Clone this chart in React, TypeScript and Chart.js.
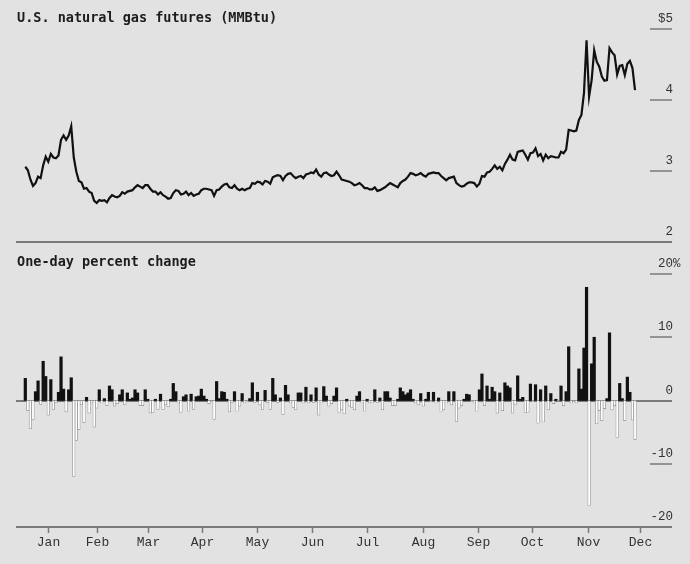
import React, { useEffect, useRef } from "react";
import { Chart, registerables } from "chart.js";

Chart.register(...registerables);

// ---- Data (one value per trading day, oldest first) ----
const priceValues: number[] = [
  3.06, 3.01, 2.88, 2.79, 2.83, 2.92, 2.90, 3.08, 3.20, 3.13,
  3.24, 3.19, 3.18, 3.22, 3.44, 3.50, 3.44, 3.50, 3.63, 3.19,
  2.99, 2.86, 2.84, 2.75, 2.76, 2.71, 2.69, 2.58, 2.55, 2.59,
  2.58, 2.59, 2.56, 2.62, 2.66, 2.64, 2.63, 2.65, 2.70, 2.68,
  2.71, 2.72, 2.73, 2.77, 2.80, 2.78, 2.76, 2.80, 2.80, 2.75,
  2.71, 2.71, 2.67, 2.70, 2.66, 2.64, 2.61, 2.62, 2.69, 2.73,
  2.72, 2.67, 2.68, 2.71, 2.66, 2.69, 2.65, 2.67, 2.68, 2.73,
  2.75, 2.75, 2.74, 2.73, 2.65, 2.73, 2.74, 2.78, 2.81, 2.82,
  2.77, 2.76, 2.80, 2.75, 2.73, 2.75, 2.73, 2.75, 2.76, 2.83,
  2.82, 2.85, 2.84, 2.81, 2.86, 2.85, 2.82, 2.91, 2.93, 2.94,
  2.93, 2.87, 2.93, 2.96, 2.97, 2.93, 2.90, 2.92, 2.93, 2.90,
  2.95, 2.96, 2.98, 2.97, 3.02, 2.95, 2.92, 2.97, 2.98, 2.95,
  2.93, 2.94, 2.99, 2.94, 2.88, 2.87, 2.86, 2.85, 2.83, 2.80,
  2.81, 2.83, 2.80, 2.76, 2.76, 2.74, 2.74, 2.77, 2.72, 2.73,
  2.75, 2.77, 2.80, 2.83, 2.81, 2.79, 2.77, 2.83, 2.86, 2.88,
  2.92, 2.97, 2.96, 2.94, 2.95, 2.97, 2.94, 2.92, 2.96, 2.97,
  2.98, 2.97, 2.97, 2.93, 2.90, 2.87, 2.90, 2.91, 2.92, 2.83,
  2.80, 2.78, 2.79, 2.82, 2.84, 2.84, 2.83, 2.78, 2.82, 2.93,
  2.92, 2.98, 2.99, 3.03, 3.08, 3.03, 3.06, 3.01, 3.10, 3.16,
  3.23, 3.16, 3.15, 3.27, 3.28, 3.29, 3.23, 3.16, 3.25, 3.26,
  3.32, 3.21, 3.24, 3.15, 3.23, 3.18, 3.21, 3.20, 3.19, 3.19,
  3.27, 3.25, 3.30, 3.58, 3.57, 3.56, 3.57, 3.72, 3.79, 4.10,
  4.84, 4.05, 4.28, 4.70, 4.54, 4.47, 4.33, 4.27, 4.28, 4.73,
  4.67, 4.63, 4.36, 4.48, 4.49, 4.35, 4.51, 4.55, 4.45, 4.14,
];

const changeValues: number[] = [
  3.5, -1.6, -4.4, -3.0, 1.4, 3.1, -0.6, 6.2, 3.8, -2.3,
  3.3, -1.4, -0.3, 1.3, 6.9, 1.8, -1.8, 1.7, 3.6, -12.0,
  -6.3, -4.6, -0.7, -3.5, 0.5, -2.0, -0.4, -4.2, -1.2, 1.7,
  -0.4, 0.3, -0.8, 2.3, 1.7, -0.9, -0.5, 0.9, 1.7, -0.7,
  1.2, 0.2, 0.4, 1.7, 1.2, -0.8, -0.8, 1.7, 0.2, -2.0,
  -1.9, 0.2, -1.4, 1.0, -1.4, -0.7, -1.0, 0.2, 2.7, 1.4,
  -0.4, -1.9, 0.6, 0.9, -1.7, 1.0, -1.4, 0.6, 0.7, 1.8,
  0.7, 0.2, -0.5, -0.2, -3.0, 3.0, 0.3, 1.4, 1.3, 0.2,
  -1.8, -0.3, 1.4, -1.7, -0.9, 1.1, -0.4, -0.2, 0.3, 2.8,
  -0.3, 1.3, -0.7, -1.4, 1.6, -0.3, -1.4, 3.5, 0.9, -0.3,
  0.4, -2.2, 2.4, 0.9, -0.4, -1.1, -1.4, 1.2, 1.2, -0.4,
  2.1, -0.4, 0.9, -0.3, 2.0, -2.3, -0.4, 2.2, 0.7, -0.9,
  -0.5, 0.7, 2.0, -1.9, -1.5, -2.1, 0.2, -0.9, -1.1, -1.5,
  0.7, 1.4, -0.4, -1.7, 0.2, -0.4, -0.4, 1.7, -0.3, 0.4,
  -1.5, 1.4, 1.4, 0.4, -0.8, -0.8, 0.2, 2.0, 1.4, 0.9,
  1.2, 1.7, 0.2, -0.4, -0.7, 1.1, -0.9, 0.2, 1.3, -0.2,
  1.3, -0.4, 0.4, -1.7, -1.5, -0.4, 1.4, -0.7, 1.4, -3.3,
  -1.2, -0.8, 0.2, 1.0, 0.9, -0.2, -0.4, -1.7, 1.7, 4.2,
  -0.8, 2.3, 0.2, 2.1, 1.4, -2.0, 1.2, -1.6, 2.8, 2.3,
  2.0, -2.0, -0.7, 3.9, 0.2, 0.5, -1.9, -1.9, 2.6, -0.2,
  2.5, -3.6, 1.7, -3.4, 2.3, -1.5, 1.1, -0.5, 0.2, -0.1,
  2.3, -0.8, 1.4, 8.5, -0.4, -0.2, -0.4, 5.0, 1.8, 8.3,
  17.9, -16.6, 5.8, 10.0, -3.7, -1.6, -3.2, -1.3, 0.3, 10.7,
  -1.5, -0.8, -5.9, 2.7, 0.3, -3.2, 3.7, 1.3, -3.1, -6.2,
];

// month labels and their positions on the trading-day axis
const monthLabels = ["Jan", "Feb", "Mar", "Apr", "May", "Jun", "Jul", "Aug", "Sep", "Oct", "Nov", "Dec"];
const monthTickPos = [9.0, 28.0, 48.0, 69.1, 90.8, 112.5, 133.8, 156.0, 177.3, 198.5, 220.7, 241.0];

const priceTicks = [5, 4, 3, 2];
const priceTickLabels = ["$5", "4", "3", "2"];
const changeTicks = [20, 10, 0, -10, -20];
const changeTickLabels = ["20%", "10", "0", "-10", "-20"];

const topTitle = "U.S. natural gas futures (MMBtu)";
const bottomTitle = "One-day percent change";

// ---- styles ----
const BG = "#e2e2e2";
const X_MIN = -3.65;
const X_MAX = 253.5;
const TITLE_FONT = 'bold 13.5px "DejaVu Sans Mono", monospace';
const TICK_FONT = '12.5px "Liberation Mono", monospace';
const MONTH_FONT = '13px "Liberation Mono", monospace';
const TEXT_COLOR = "#333333";
const RULE_COLOR = "#7a7a7a";
const LABEL_RIGHT = 673;
const SHORT_RULE_LEFT = 650;

function drawValueAxis(chart: any, ticks: number[], labels: string[], fullAt: number[]) {
  const { ctx, chartArea, scales } = chart;
  const y = scales.y;
  ctx.save();
  ticks.forEach((v, i) => {
    const py = Math.round(y.getPixelForValue(v));
    const full = fullAt.includes(v);
    ctx.strokeStyle = RULE_COLOR;
    ctx.lineWidth = full ? 2 : 1.5;
    ctx.beginPath();
    ctx.moveTo(full ? chartArea.left : SHORT_RULE_LEFT, py);
    ctx.lineTo(chartArea.right, py);
    ctx.stroke();
    const label = labels[i];
    ctx.font = TICK_FONT;
    ctx.fillStyle = TEXT_COLOR;
    ctx.textAlign = "left";
    ctx.textBaseline = "alphabetic";
    const anchorPart = label.replace("%", "");
    const w = ctx.measureText(anchorPart).width;
    ctx.fillText(label, LABEL_RIGHT - w, py - 7);
  });
  ctx.restore();
}

function drawTitle(chart: any, text: string, cy: number) {
  const { ctx } = chart;
  ctx.save();
  ctx.font = TITLE_FONT;
  ctx.fillStyle = "#1c1c1c";
  ctx.textAlign = "left";
  ctx.textBaseline = "middle";
  ctx.fillText(text, 17, cy);
  ctx.restore();
}

const topDecor = {
  id: "topDecor",
  beforeDatasetsDraw(chart: any) {
    drawTitle(chart, topTitle, 18);
    drawValueAxis(chart, priceTicks, priceTickLabels, [2]);
  },
};

const bottomDecor = {
  id: "bottomDecor",
  beforeDatasetsDraw(chart: any) {
    drawTitle(chart, bottomTitle, 12);
    drawValueAxis(chart, changeTicks, changeTickLabels, [0, -20]);
    const { ctx, chartArea, scales } = chart;
    const x = scales.x;
    ctx.save();
    ctx.strokeStyle = RULE_COLOR;
    ctx.lineWidth = 1.5;
    ctx.font = MONTH_FONT;
    ctx.fillStyle = TEXT_COLOR;
    ctx.textAlign = "center";
    ctx.textBaseline = "middle";
    monthTickPos.forEach((p, i) => {
      const px = Math.round(x.getPixelForValue(p)) + 0.5;
      ctx.beginPath();
      ctx.moveTo(px, chartArea.bottom);
      ctx.lineTo(px, chartArea.bottom + 6);
      ctx.stroke();
      ctx.fillText(monthLabels[i], px, chartArea.bottom + 16);
    });
    ctx.restore();
  },
};

function makeXScale() {
  return {
    type: "linear" as const,
    display: false,
    min: X_MIN,
    max: X_MAX,
    offset: false,
    grid: { offset: false },
  };
}

export default function App() {
  const topRef = useRef<HTMLCanvasElement>(null);
  const botRef = useRef<HTMLCanvasElement>(null);

  useEffect(() => {
    const top = new Chart(topRef.current!, {
      type: "line",
      data: {
        datasets: [
          {
            data: priceValues.map((v, i) => ({ x: i, y: v })),
            borderColor: "#111111",
            borderWidth: 2.2,
            pointRadius: 0,
            tension: 0,
            fill: false,
          },
        ],
      },
      options: {
        animation: false,
        responsive: false,
        devicePixelRatio: 1,
        layout: { padding: { left: 16, right: 18, top: 29, bottom: 8 } },
        scales: { x: makeXScale(), y: { type: "linear", display: false, min: 2, max: 5 } },
        plugins: { legend: { display: false }, tooltip: { enabled: false } },
      },
      plugins: [topDecor],
    });

    const bottom = new Chart(botRef.current!, {
      type: "bar",
      data: {
        datasets: [
          {
            data: changeValues.map((v, i) => ({ x: i, y: v })),
            backgroundColor: changeValues.map((v) => (v >= 0 ? "#111111" : "#ffffff")),
            borderColor: changeValues.map((v) => (v >= 0 ? "#111111" : "#8f8f8f")),
            borderWidth: changeValues.map((v) => (v >= 0 ? 0 : 0.7)),
            borderSkipped: false,
            barPercentage: 1,
            categoryPercentage: 1,
          },
        ],
      },
      options: {
        animation: false,
        responsive: false,
        devicePixelRatio: 1,
        layout: { padding: { left: 16, right: 18, top: 24, bottom: 37 } },
        scales: { x: makeXScale(), y: { type: "linear", display: false, min: -20, max: 20 } },
        plugins: { legend: { display: false }, tooltip: { enabled: false } },
      },
      plugins: [bottomDecor],
    });

    return () => {
      top.destroy();
      bottom.destroy();
    };
  }, []);

  return (
    <div
      style={{
        position: "absolute",
        left: 0,
        top: 0,
        width: 690,
        height: 564,
        background: BG,
        overflow: "hidden",
      }}
    >
      <canvas ref={topRef} width={690} height={250} style={{ position: "absolute", left: 0, top: 0 }} />
      <canvas ref={botRef} width={690} height={314} style={{ position: "absolute", left: 0, top: 250 }} />
    </div>
  );
}
